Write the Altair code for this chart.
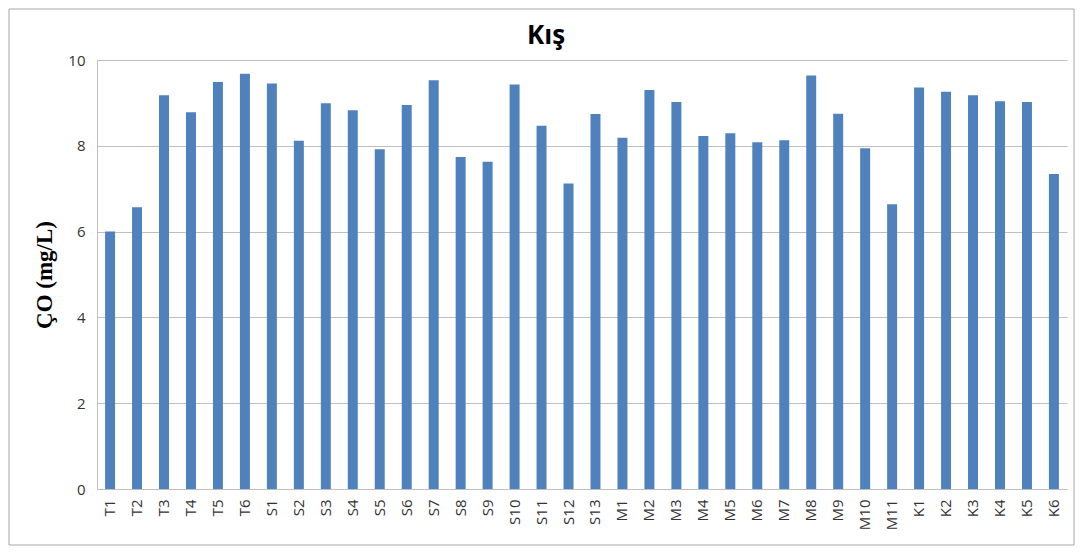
import altair as alt
import pandas as pd

stations = ["T1", "T2", "T3", "T4", "T5", "T6",
            "S1", "S2", "S3", "S4", "S5", "S6", "S7", "S8", "S9", "S10", "S11", "S12", "S13",
            "M1", "M2", "M3", "M4", "M5", "M6", "M7", "M8", "M9", "M10", "M11",
            "K1", "K2", "K3", "K4", "K5", "K6"]
co_values = [6.0, 6.57, 9.18, 8.78, 9.49, 9.68,
             9.45, 8.12, 8.99, 8.83, 7.92, 8.95, 9.53, 7.74, 7.63, 9.43, 8.47, 7.12, 8.74,
             8.19, 9.30, 9.02, 8.23, 8.29, 8.08, 8.13, 9.64, 8.75, 7.94, 6.64,
             9.36, 9.26, 9.18, 9.04, 9.02, 7.34]
chart_title = "Kış"

df = pd.DataFrame({"station": stations, "co": co_values})

W, H = 970, 429
PL, PT, PR, PB = 89, 52, 8, 57

bars = alt.Chart(df).mark_bar(color="#4F81BD").encode(
    x=alt.X("station:N", sort=stations, title=None,
            scale=alt.Scale(paddingInner=0.63, paddingOuter=0.3),
            axis=alt.Axis(labelAngle=-90, labelFontSize=15, labelColor="#333333",
                          labelFont="Open Sans", ticks=False, labelPadding=10,
                          domainColor="#BFBFBF", labelAlign="right", labelBaseline="middle")),
    y=alt.Y("co:Q", title="ÇO (mg/L)",
            scale=alt.Scale(domain=[0, 10], nice=False),
            axis=alt.Axis(values=[0, 2, 4, 6, 8, 10], labelFontSize=15, labelColor="#333333",
                          labelFont="Open Sans", ticks=False, labelPadding=12,
                          domainColor="#BFBFBF", gridColor="#BFBFBF",
                          titleFont="Liberation Serif", titleFontSize=23, titleFontWeight="bold",
                          titleColor="#000000", titlePadding=11)),
)

title_text = alt.Chart(alt.Data(values=[{"t": chart_title}])).mark_text(
    fontSize=26, fontWeight="bold", font="Open Sans", color="#000000",
    align="center", baseline="alphabetic"
).encode(
    text="t:N",
    x=alt.value(W / 2 - 36), y=alt.value(-16),
)

border = alt.Chart(alt.Data(values=[{}])).mark_rect(
    fill=None, stroke="#A6A6A6", strokeWidth=1
).encode(
    x=alt.value(-PL + 1), x2=alt.value(W + PR - 1),
    y=alt.value(-PT + 1), y2=alt.value(H + PB - 1),
)

chart = alt.layer(bars, title_text, border).properties(
    width=W, height=H,
    autosize=alt.AutoSizeParams(type="none"),
    padding={"left": PL, "top": PT, "right": PR, "bottom": PB},
).configure_view(stroke=None).configure_axis(grid=True).configure_axisX(grid=False)

chart.save("out.html", embed_options={"renderer": "svg", "actions": False})
